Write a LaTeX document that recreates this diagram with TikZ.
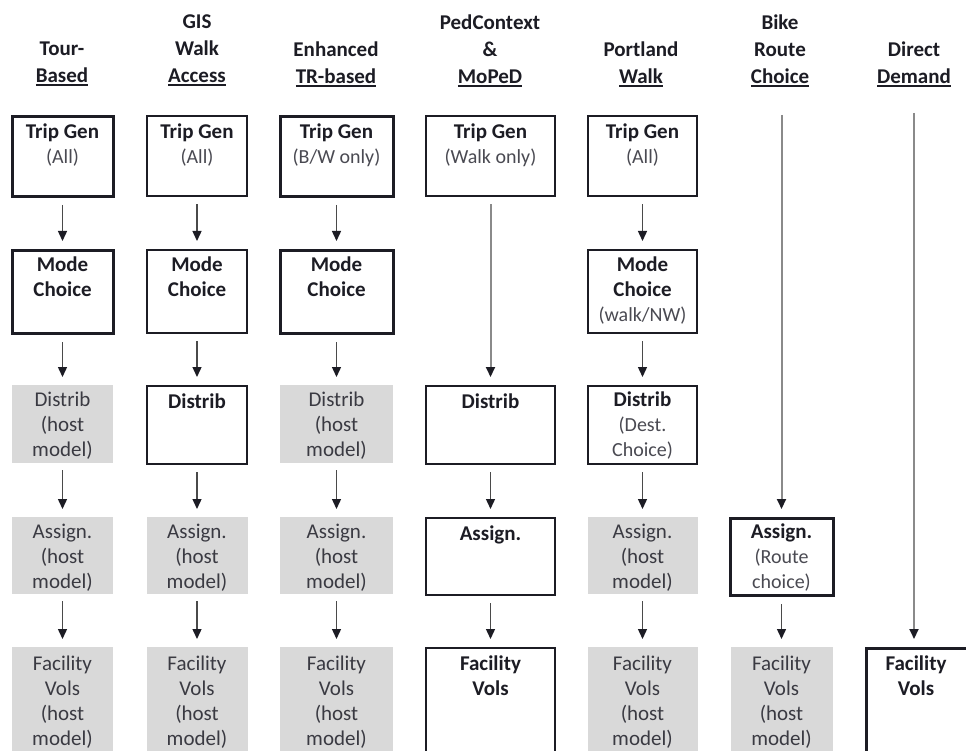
\documentclass[tikz,border=0pt]{standalone}
\usepackage{fontspec}
\setmainfont{Carlito}
\usetikzlibrary{arrows.meta}
\definecolor{ink}{HTML}{1C1C24}
\definecolor{subink}{HTML}{4A4A52}
\definecolor{hostfill}{HTML}{D9D9D9}
\definecolor{hostink}{HTML}{3A3A42}
\definecolor{shaft}{HTML}{4A4A4A}
\definecolor{longshaft}{HTML}{8A8A8A}
\newcommand\hdul[1]{\leavevmode\vtop{\hbox{#1}\kern1.2pt\hrule height 1.8pt}}
\newcommand\bigfs{\fontsize{21}{25}\selectfont}
\newcommand\subfs{\fontsize{20}{25}\selectfont}
\newcommand\subl[1]{{\subfs\color{subink}#1}}
\tikzset{
  stage/.style={draw=ink, line width=2.2pt, fill=white, inner sep=0pt, anchor=north},
  stagethick/.style={stage, line width=3pt},
  hostbox/.style={fill=hostfill, draw=none, inner sep=0pt, anchor=north},
  lbl/.style={anchor=north, inner sep=0pt, align=center, font=\bigfs, text=ink, execute at begin node={\rule{0pt}{16pt}}},
  hostlbl/.style={lbl, text=hostink},
  hdr/.style={anchor=north, inner sep=0pt, align=center, font=\fontsize{21}{27}\selectfont\bfseries, text=ink, execute at begin node={\rule{0pt}{16pt}}},
  flow/.style={draw=shaft, line width=1.4pt, -{Triangle[length=10pt,width=9pt,color=ink]}, shorten <=7pt, shorten >=8pt},
  longflow/.style={draw=longshaft, line width=2pt, -{Triangle[length=10pt,width=9pt,color=ink]}, shorten >=8pt},
  r1/.style={minimum height=80pt},
  r2/.style={minimum height=83pt},
  r3/.style={minimum height=78pt},
  r4/.style={minimum height=77pt},
  r5/.style={minimum height=130pt},
}
\begin{document}
\begin{tikzpicture}[x=1pt,y=-1pt]
\useasboundingbox (0,0) rectangle (966,751);
\fill[white] (0,0) rectangle (966,751);
\clip (0,0) rectangle (966,751);

% headers
\node[hdr] (h1) at (62,42) {Tour-\\\hdul{Based}};
\node[hdr] (h2) at (197,15) {GIS\\Walk\\\hdul{Access}};
\node[hdr] (h3) at (336,42) {Enhanced\\\hdul{TR-based}};
\node[hdr] (h4) at (490,15) {PedContext\\\&\\\hdul{MoPeD}};
\node[hdr] (h5) at (641,42) {Portland\\\hdul{Walk}};
\node[hdr] (h6) at (780,15) {Bike\\Route\\\hdul{Choice}};
\node[hdr] (h7) at (914,42) {Direct\\\hdul{Demand}};

% column 1
\node[stagethick,r1,minimum width=101pt] (b11) at (62.5,115) {};
\node[stagethick,r2,minimum width=101pt] (b12) at (62.5,249) {};
\node[hostbox,r3,minimum width=101pt] (b13) at (62.5,385) {};
\node[hostbox,r4,minimum width=101pt] (b14) at (62.5,517) {};
\node[hostbox,r5,minimum width=101pt] (b15) at (62.5,647) {};
% column 2
\node[stage,r1,minimum width=100pt] (b21) at (197,115) {};
\node[stage,r2,minimum width=100pt] (b22) at (197,249) {};
\node[stage,r3,minimum width=100pt] (b23) at (197,385) {};
\node[hostbox,r4,minimum width=101pt] (b24) at (197,517) {};
\node[hostbox,r5,minimum width=101pt] (b25) at (197,647) {};
% column 3
\node[stagethick,r1,minimum width=113pt] (b31) at (336.5,115) {};
\node[stagethick,r2,minimum width=113pt] (b32) at (336.5,249) {};
\node[hostbox,r3,minimum width=113pt] (b33) at (336.5,385) {};
\node[hostbox,r4,minimum width=113pt] (b34) at (336.5,517) {};
\node[hostbox,r5,minimum width=113pt] (b35) at (336.5,647) {};
% column 4
\node[stage,r1,minimum width=129pt] (b41) at (490.5,115) {};
\node[stage,r3,minimum width=129pt] (b43) at (490.5,385) {};
\node[stage,r4,minimum width=129pt] (b44) at (490.5,517) {};
\node[stage,r5,minimum width=129pt] (b45) at (490.5,647) {};
% column 5
\node[stage,r1,minimum width=109pt] (b51) at (642.5,115) {};
\node[stage,r2,minimum width=109pt] (b52) at (642.5,249) {};
\node[stage,r3,minimum width=109pt] (b53) at (642.5,385) {};
\node[hostbox,r4,minimum width=110pt] (b54) at (642.5,517) {};
\node[hostbox,r5,minimum width=110pt] (b55) at (642.5,647) {};
% column 6
\node[stagethick,r4,minimum width=103pt] (b64) at (781.5,517) {};
\node[hostbox,r5,minimum width=102pt] (b65) at (781.5,647) {};
% column 7 (runs off the right and bottom edges)
\node[stagethick,r5,minimum width=110pt] (b75) at (921,647) {};

% labels
\node[lbl] (t11) at ([yshift=-9pt]b11.north) {\textbf{Trip Gen}\\\subl{(All)}};
\node[lbl] (t12) at ([yshift=-8pt]b12.north) {\textbf{Mode}\\\textbf{Choice}};
\node[hostlbl] (t13) at ([yshift=-7pt]b13.north) {Distrib\\(host\\model)};
\node[hostlbl] (t14) at ([yshift=-7pt]b14.north) {Assign.\\(host\\model)};
\node[hostlbl] (t15) at ([yshift=-9pt]b15.north) {Facility\\Vols\\(host\\model)};

\node[lbl] (t21) at ([yshift=-9pt]b21.north) {\textbf{Trip Gen}\\\subl{(All)}};
\node[lbl] (t22) at ([yshift=-8pt]b22.north) {\textbf{Mode}\\\textbf{Choice}};
\node[lbl] (t23) at ([yshift=-7pt]b23.north) {\textbf{Distrib}};
\node[hostlbl] (t24) at ([yshift=-7pt]b24.north) {Assign.\\(host\\model)};
\node[hostlbl] (t25) at ([yshift=-9pt]b25.north) {Facility\\Vols\\(host\\model)};

\node[lbl] (t31) at ([yshift=-9pt]b31.north) {\textbf{Trip Gen}\\\subl{(B/W only)}};
\node[lbl] (t32) at ([yshift=-8pt]b32.north) {\textbf{Mode}\\\textbf{Choice}};
\node[hostlbl] (t33) at ([yshift=-7pt]b33.north) {Distrib\\(host\\model)};
\node[hostlbl] (t34) at ([yshift=-7pt]b34.north) {Assign.\\(host\\model)};
\node[hostlbl] (t35) at ([yshift=-9pt]b35.north) {Facility\\Vols\\(host\\model)};

\node[lbl] (t41) at ([yshift=-9pt]b41.north) {\textbf{Trip Gen}\\\subl{(Walk only)}};
\node[lbl] (t43) at ([yshift=-7pt]b43.north) {\textbf{Distrib}};
\node[lbl] (t44) at ([yshift=-7pt]b44.north) {\textbf{Assign.}};
\node[lbl] (t45) at ([yshift=-9pt]b45.north) {\textbf{Facility}\\\textbf{Vols}};

\node[lbl] (t51) at ([yshift=-9pt]b51.north) {\textbf{Trip Gen}\\\subl{(All)}};
\node[lbl] (t52) at ([yshift=-8pt]b52.north) {\textbf{Mode}\\\textbf{Choice}\\\subl{(walk/NW)}};
\node[lbl] (t53) at ([yshift=-7pt]b53.north) {\textbf{Distrib}\\\subl{(Dest.}\\\subl{Choice)}};
\node[hostlbl] (t54) at ([yshift=-7pt]b54.north) {Assign.\\(host\\model)};
\node[hostlbl] (t55) at ([yshift=-9pt]b55.north) {Facility\\Vols\\(host\\model)};

\node[lbl] (t64) at ([yshift=-7pt]b64.north) {\textbf{Assign.}\\\subl{(Route}\\\subl{choice)}};
\node[hostlbl] (t65) at ([yshift=-9pt]b65.north) {Facility\\Vols\\(host\\model)};

\node[lbl] (t75) at ([xshift=-5pt,yshift=-9pt]b75.north) {\textbf{Facility}\\\textbf{Vols}};

% connectors
\foreach \c in {1,2,3,5}{
  \draw[flow] (b\c1) -- (b\c2);
  \draw[flow] (b\c2) -- (b\c3);
  \draw[flow] (b\c3) -- (b\c4);
  \draw[flow] (b\c4) -- (b\c5);
}
\draw[longflow, shorten <=7pt] (b41) -- (b43);
\draw[flow] (b43) -- (b44);
\draw[flow] (b44) -- (b45);

\coordinate (c6top) at (781.5,115);
\coordinate (c7top) at (914,113);
\draw[longflow] (c6top) -- (b64);
\draw[flow] (b64) -- (b65);
\draw[longflow] (c7top) -- (c7top |- b75.north);
\end{tikzpicture}
\end{document}
